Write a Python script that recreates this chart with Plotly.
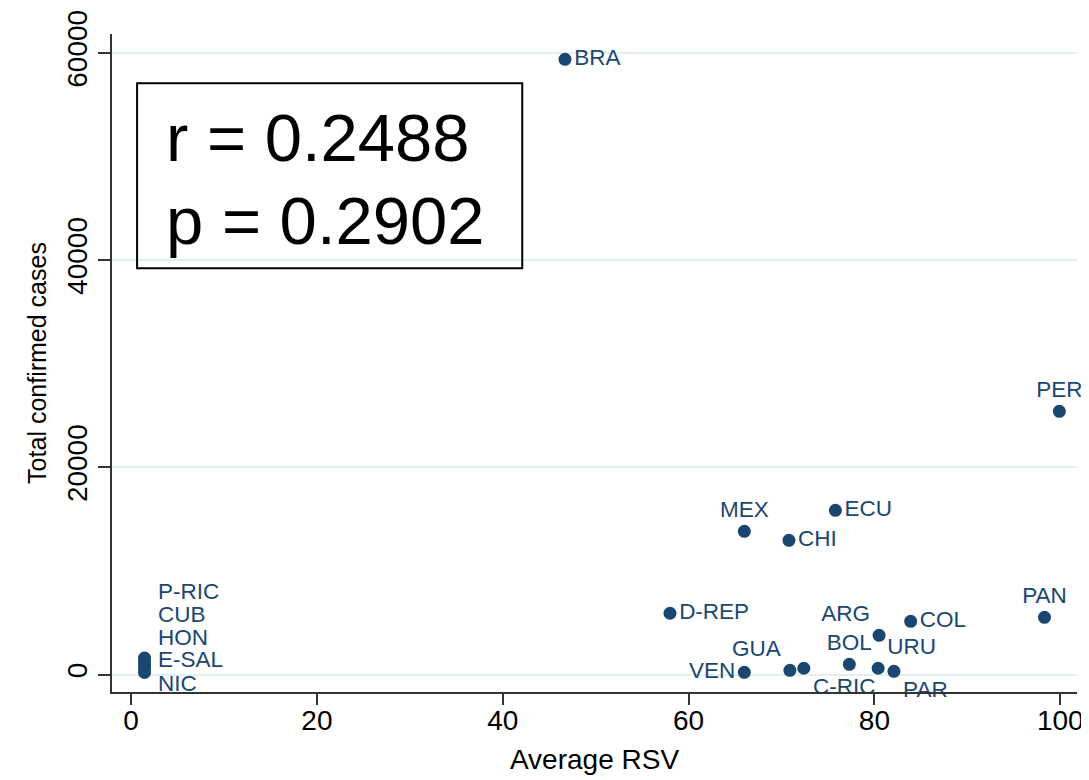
import plotly.graph_objects as go

# ---- data ----
countries = ["BRA", "PER", "ECU", "MEX", "CHI", "D-REP", "COL", "PAN", "ARG",
             "BOL", "URU", "PAR", "GUA", "C-RIC", "VEN"]
avg_rsv = [46.7, 99.9, 75.8, 66.0, 70.8, 58.0, 83.9, 98.3, 80.5,
           77.3, 80.4, 82.1, 70.9, 72.4, 66.0]
total_cases = [59390, 25415, 15860, 13830, 12960, 5920, 5140, 5530, 3790,
               990, 610, 320, 415, 610, 220]

cluster_countries = ["P-RIC", "CUB", "HON", "E-SAL", "NIC"]
cluster_rsv = [1.45, 1.45, 1.45, 1.45, 1.45]
cluster_cases = [1600, 1250, 900, 550, 200]

x_ticks = [0, 20, 40, 60, 80, 100]
y_ticks = [0, 20000, 40000, 60000]
stat_lines = ["r = 0.2488", "p = 0.2902"]

# ---- styles ----
NAVY = "#1a476f"
label_pos = {
    "BRA": "middle right", "PER": "top center", "ECU": "middle right",
    "MEX": "top center", "CHI": "middle right", "D-REP": "middle right",
    "COL": "middle right", "PAN": "top center", "ARG": "top left",
    "BOL": "top center", "URU": "top right", "PAR": "bottom right",
    "GUA": "top left", "C-RIC": "bottom right", "VEN": "middle left",
}
cluster_yshift = [67, 47, 28, 9, -11]
LABEL_FONT = dict(family="Liberation Sans, Arial", size=22.5, color=NAVY)

fig = go.Figure()
fig.add_trace(go.Scatter(
    x=avg_rsv, y=total_cases, mode="markers+text",
    text=countries,
    textposition=[label_pos[c] for c in countries],
    textfont=LABEL_FONT,
    marker=dict(size=13, color=NAVY),
    cliponaxis=False, showlegend=False, hoverinfo="skip",
))
fig.add_trace(go.Scatter(
    x=cluster_rsv, y=cluster_cases, mode="markers",
    marker=dict(size=13, color=NAVY),
    cliponaxis=False, showlegend=False, hoverinfo="skip",
))
for name, xv, yv, ys in zip(cluster_countries, cluster_rsv, cluster_cases, cluster_yshift):
    fig.add_annotation(x=xv, y=yv, text=name, showarrow=False,
                       xanchor="left", yanchor="middle", xshift=11, yshift=ys,
                       font=LABEL_FONT)

# stats box
fig.add_shape(type="rect", xref="x", yref="y", x0=0.65, x1=42.1, y0=39220, y1=57070,
              line=dict(color="black", width=2), fillcolor="rgba(0,0,0,0)")
for txt, yv in zip(stat_lines, [51800, 43800]):
    fig.add_annotation(x=3.5, y=yv, text=txt, showarrow=False,
                       xanchor="left", yanchor="middle",
                       font=dict(family="Liberation Sans, Arial", size=67, color="black"))

# page body has an 8px default margin, so the figure is sized to fit the window
fig.update_layout(
    width=1081, height=772,
    margin=dict(l=104, r=12, t=26, b=88),
    paper_bgcolor="white", plot_bgcolor="white",
    font=dict(family="Liberation Sans, Arial", color="black"),
)
fig.update_xaxes(
    automargin=False,
    range=[-2.05, 101.8], tickvals=x_ticks, ticktext=[str(v) for v in x_ticks],
    showgrid=False, zeroline=False, showline=True, linecolor="#333333", linewidth=1.5,
    ticks="outside", ticklen=11, tickwidth=1.5, tickcolor="#333333",
    ticklabelstandoff=-8,
    tickfont=dict(family="Liberation Sans Narrow, Liberation Sans, Arial", size=28),
    title=dict(text="Average RSV", standoff=14,
               font=dict(family="Liberation Sans Narrow, Liberation Sans, Arial", size=28)),
)
fig.update_yaxes(
    automargin=False,
    range=[-1680, 61830], tickvals=y_ticks, ticktext=[str(v) for v in y_ticks],
    tickangle=-90,
    showgrid=True, gridcolor="#e3eff1", gridwidth=1.5,
    zeroline=False, showline=True, linecolor="#333333", linewidth=1.5,
    ticks="outside", ticklen=12, tickwidth=1.5, tickcolor="#333333",
    tickfont=dict(size=28),
    title=dict(text="Total confirmed cases", standoff=8, font=dict(size=25)),
)

fig.write_html("out.html")
